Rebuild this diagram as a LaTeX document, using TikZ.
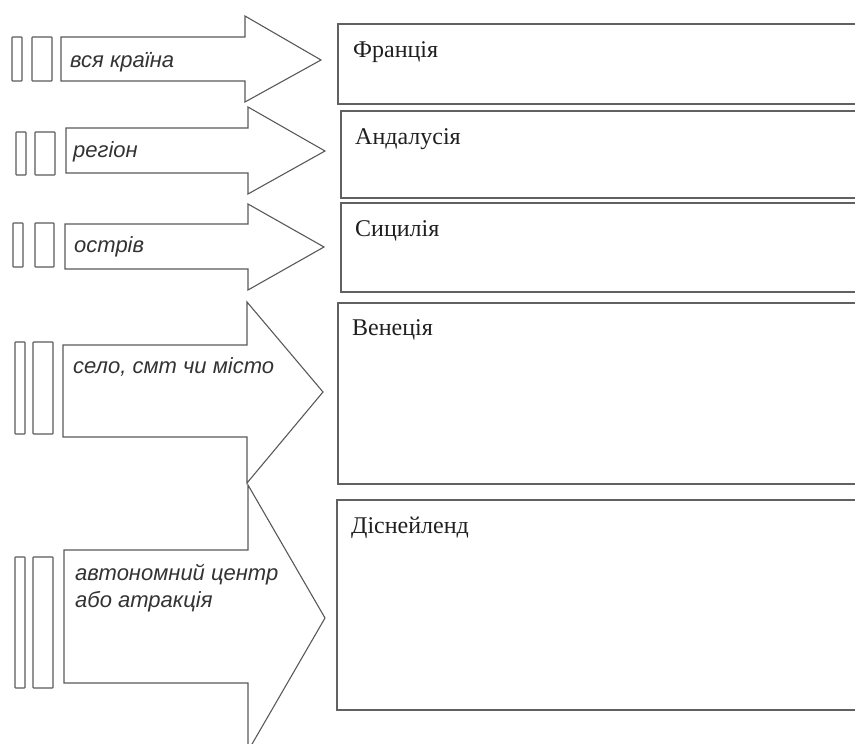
\documentclass[tikz,border=0pt]{standalone}
\usepackage{fontspec}
\setmainfont{Liberation Serif}
\setsansfont{Liberation Sans}
\begin{document}
\begin{tikzpicture}[x=1pt,y=-1pt,
  arrowshape/.style={draw=black!65, line width=1.1pt, line join=miter},
  barshape/.style={draw=black!65, line width=1.1pt, rounded corners=0.6pt},
  boxshape/.style={draw=black!62, line width=1.6pt},
  lbl/.style={anchor=base west, inner sep=0pt, font=\sffamily\itshape\fontsize{22}{27}\selectfont, text=black!80, align=left},
  ttl/.style={anchor=base west, inner sep=0pt, font=\fontsize{24}{28}\selectfont, text=black!88}]
\useasboundingbox (0,0) rectangle (855,744);
\clip (0,0) rectangle (855,744);
% L,T,B,H,HT,HB,tipx,tipy
\newcommand\fatarrow[8]{\draw[arrowshape] (#1,#2) -- (#4,#2) -- (#4,#5) -- (#7,#8) -- (#4,#6) -- (#4,#3) -- (#1,#3) -- cycle;}
\newcommand\twobars[6]{%
  \draw[barshape] (#1,#5) rectangle (#2,#6);
  \draw[barshape] (#3,#5) rectangle (#4,#6);}
% boxes
\draw[boxshape] (338,24) rectangle (880,104);
\draw[boxshape] (341,111) rectangle (880,198);
\draw[boxshape] (341,203) rectangle (880,292);
\draw[boxshape] (338,303) rectangle (880,484);
\draw[boxshape] (337,500) rectangle (880,710);
% arrows
\fatarrow{61}{37}{81}{245}{16}{102}{321}{60}
\fatarrow{66}{128}{173}{248}{107}{194}{325}{151}
\fatarrow{65}{224}{269}{248}{204}{290}{324}{247}
\fatarrow{63}{345}{437}{247}{302}{483}{323}{392}
\fatarrow{64}{550}{683}{248}{485}{751}{325}{618}
% bars
\twobars{12}{22}{32}{52}{37}{81}
\twobars{16}{26}{35}{55}{132}{175}
\twobars{13}{23}{35}{54}{223}{267}
\twobars{15}{25}{33}{53}{342}{434}
\twobars{15}{25}{33}{53}{557}{688}
% labels
\node[lbl] (l1) at (70,67) {вся країна};
\node[lbl] (l2) at (73,157) {регіон};
\node[lbl] (l3) at (74,252) {острів};
\node[lbl] (l4) at (73,373) {село, смт чи місто};
\node[lbl] (l5) at (75,607) {автономний центр\\або атракція};
% titles
\node[ttl] (t1) at (353,57) {Франція};
\node[ttl] (t2) at (355,144) {Андалусія};
\node[ttl] (t3) at (355,236) {Сицилія};
\node[ttl] (t4) at (352,335) {Венеція};
\node[ttl] (t5) at (351,533) {Діснейленд};
\end{tikzpicture}
\end{document}
